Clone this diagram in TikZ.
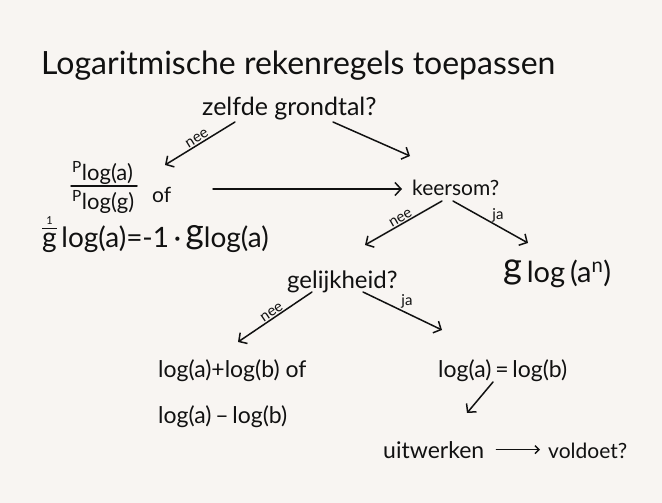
\documentclass[tikz,border=0pt]{standalone}
\usepackage{fontspec}
\setmainfont{Lato}
\usetikzlibrary{arrows.meta}
\definecolor{paper}{HTML}{F8F5F2}
\definecolor{ink}{HTML}{111111}
\newcommand{\fz}[1]{\fontsize{#1}{#1}\selectfont}
% base written in front of "log", as tall as the ascenders
\newcommand{\pre}[1]{\raisebox{0.12em}{\scalebox{1.25}{#1}}}
% base 1/g in front of "log"
\newcommand{\invg}{{\setlength{\arrayrulewidth}{1.2pt}\renewcommand{\arraystretch}{0.8}%
  \begin{tabular}[b]{@{}c@{}}\fz{11}1\\[-3pt]\hline\rule{0pt}{18pt}g\end{tabular}}}
\begin{document}
\begin{tikzpicture}[x=1pt,y=-1pt,
  txt/.style={anchor=base west, inner sep=0pt, text=ink, font=\fz{20}},
  arr/.style={draw=ink, -{Straight Barb[length=6pt,width=13pt,line width=1.5pt]}, line width=1.5pt, line cap=round},
  smallarr/.style={draw=ink, -{Straight Barb[length=4pt,width=8pt,line width=1.5pt]}, line width=1.5pt, line cap=round},
  lbl/.style={text=ink, font=\fz{15}, inner sep=1pt}]
\fill[paper] (0,0) rectangle (662,503);
\useasboundingbox (0,0) rectangle (662,503);

% heading
\node[txt, font=\fz{32}] (title) at (41,75) {Logaritmische rekenregels toepassen};

% first question
\node[txt, font=\fz{25}] (q1) at (202,115) {zelfde grondtal?};

% change of base: numerator, fraction bar, denominator
\node[txt, font=\fz{22}] (num) at (72,180) {\textsuperscript{P}log(a)};
\node[txt, font=\fz{22}] (den) at (72,209) {\textsuperscript{P}log(g)};
\draw[ink, line width=1.5pt, line cap=round] (71,186) -- (137,186);
\node[txt, font=\fz{21}] (of1) at (152,202) {of};
\node[txt, font=\fz{28}] (inv) at (42,247)
  {\invg\,log(a)=-1\,·\,\pre{g}log(a)};

% second question
\node[txt, font=\fz{21}] (q2) at (412,195) {keersom?};
\node[txt, font=\fz{29}] (pow) at (503,282) {\pre{g}\,log\,(a\textsuperscript{n})};

% third question
\node[txt, font=\fz{24}] (q3) at (287,288) {gelijkheid?};
\node[txt, font=\fz{23}] (sum) at (158,377) {log(a)+log(b) of};
\node[txt, font=\fz{23}] (dif) at (158,423) {log(a)\,–\,log(b)};
\node[txt, font=\fz{23}] (eq) at (438,377) {log(a)\,=\,log(b)};
\node[txt, font=\fz{23}] (uit) at (383,458) {uitwerken};
\node[txt, font=\fz{21}] (vold) at (548,458) {voldoet?};

% arrow end points
\coordinate (a1s) at (235,122); \coordinate (a1e) at (165,165);
\coordinate (a2s) at (333,122); \coordinate (a2e) at (410,156);
\coordinate (a3s) at (213,189); \coordinate (a3e) at (402,189);
\coordinate (a4s) at (442,201); \coordinate (a4e) at (365,245);
\coordinate (a5s) at (453,201); \coordinate (a5e) at (528,243);
\coordinate (a6s) at (312,292); \coordinate (a6e) at (238,342);
\coordinate (a7s) at (363,292); \coordinate (a7e) at (442,330);
\coordinate (a8s) at (493,382); \coordinate (a8e) at (467,413);

% connectors
\draw[arr] (a1s) -- node[lbl, sloped, above, pos=0.5] {nee} (a1e);
\draw[arr] (a2s) -- (a2e);
\draw[arr] (a3s) -- (a3e);
\draw[arr] (a4s) -- node[lbl, sloped, above, pos=0.5] {nee} (a4e);
\draw[arr] (a5s) -- (a5e);
\node[lbl] at (498,215) {ja};
\draw[arr] (a6s) -- node[lbl, sloped, above, pos=0.5] {nee} (a6e);
\draw[arr] (a7s) -- (a7e);
\node[lbl] at (407,301) {ja};
\draw[arr] (a8s) -- (a8e);
\draw[smallarr, shorten <=12pt, shorten >=8pt] (uit.east) -- (uit.east -| vold.west);
\end{tikzpicture}
\end{document}
